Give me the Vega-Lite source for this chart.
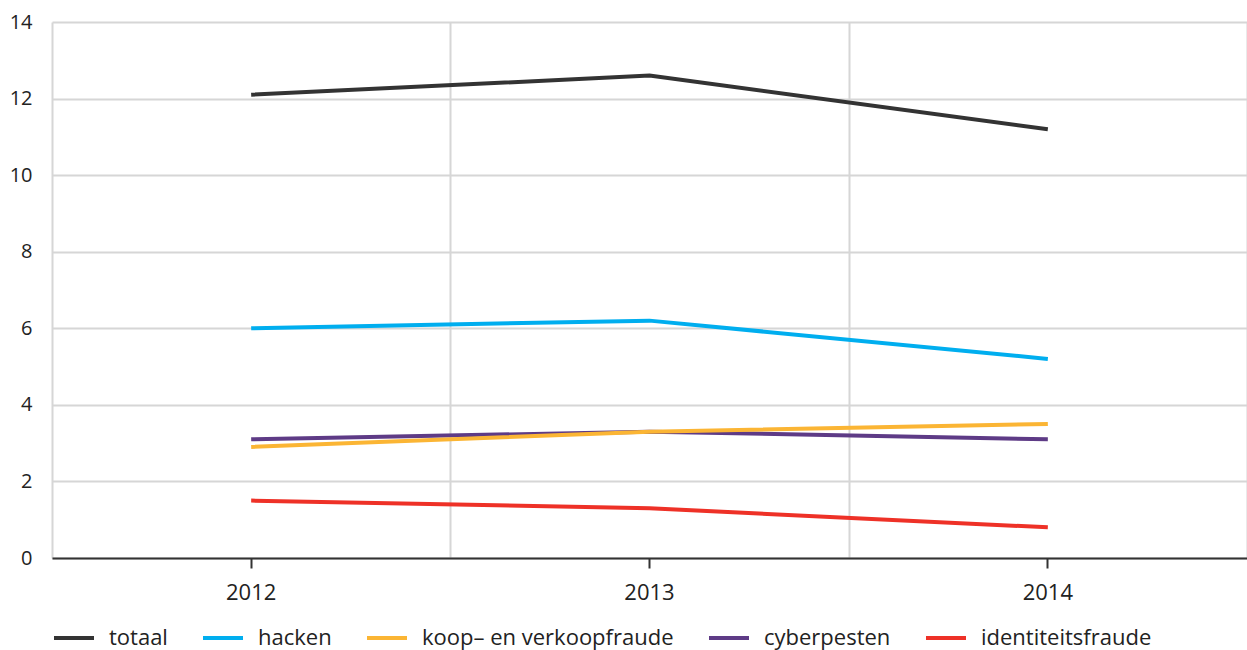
{
  "$schema": "https://vega.github.io/schema/vega-lite/v6.json",
  "autosize": {"type": "none"},
  "width": 1195,
  "height": 536,
  "padding": {"left": 52, "top": 22, "right": 0, "bottom": 92},
  "background": "white",
  "config": {
    "view": {"stroke": null},
    "font": "Open Sans",
    "axis": {"labelFont": "Open Sans", "labelColor": "#222222"},
    "legend": {"labelFont": "Open Sans"}
  },
  "data": {
    "values": [
      {"jaar": "2012", "serie": "totaal", "waarde": 12.1},
      {"jaar": "2013", "serie": "totaal", "waarde": 12.6},
      {"jaar": "2014", "serie": "totaal", "waarde": 11.2},
      {"jaar": "2012", "serie": "hacken", "waarde": 6.0},
      {"jaar": "2013", "serie": "hacken", "waarde": 6.2},
      {"jaar": "2014", "serie": "hacken", "waarde": 5.2},
      {"jaar": "2012", "serie": "cyberpesten", "waarde": 3.1},
      {"jaar": "2013", "serie": "cyberpesten", "waarde": 3.3},
      {"jaar": "2014", "serie": "cyberpesten", "waarde": 3.1},
      {"jaar": "2012", "serie": "koop– en verkoopfraude", "waarde": 2.9},
      {"jaar": "2013", "serie": "koop– en verkoopfraude", "waarde": 3.3},
      {"jaar": "2014", "serie": "koop– en verkoopfraude", "waarde": 3.5},
      {"jaar": "2012", "serie": "identiteitsfraude", "waarde": 1.5},
      {"jaar": "2013", "serie": "identiteitsfraude", "waarde": 1.3},
      {"jaar": "2014", "serie": "identiteitsfraude", "waarde": 0.8}
    ]
  },
  "resolve": {"axis": {"x": "independent"}},
  "layer": [
    {
      "mark": {"type": "line", "strokeOpacity": 0},
      "encoding": {
        "x": {
          "field": "jaar", "type": "ordinal",
          "scale": {"type": "band", "paddingInner": 0, "paddingOuter": 0},
          "axis": {
            "orient": "top", "title": null, "labels": false, "ticks": false, "domain": false,
            "grid": true, "tickBand": "extent", "gridColor": "#d6d6d6", "gridWidth": 2, "zindex": 0
          }
        },
        "y": {"field": "waarde", "type": "quantitative"},
        "detail": {"field": "serie"}
      }
    },
    {
      "mark": {"type": "line", "strokeWidth": 4},
      "encoding": {
        "x": {
          "field": "jaar", "type": "ordinal",
          "scale": {"type": "band", "paddingInner": 0, "paddingOuter": 0},
          "axis": {
            "orient": "bottom", "title": null, "labelAngle": 0, "labelFontSize": 22,
            "labelPadding": 14, "tickSize": 10, "tickWidth": 2, "tickColor": "#333333",
            "domainColor": "#333333", "domainWidth": 2, "grid": false, "zindex": 1
          }
        },
        "y": {
          "field": "waarde", "type": "quantitative",
          "scale": {"domain": [0, 14], "nice": false},
          "axis": {
            "title": null, "values": [0, 2, 4, 6, 8, 10, 12, 14], "domain": false, "ticks": false,
            "labelFontSize": 20, "labelPadding": 20, "gridColor": "#d6d6d6", "gridWidth": 2
          }
        },
        "color": {
          "field": "serie", "type": "nominal",
          "sort": ["totaal", "hacken", "koop– en verkoopfraude", "cyberpesten", "identiteitsfraude"],
          "scale": {
            "domain": ["totaal", "hacken", "koop– en verkoopfraude", "cyberpesten", "identiteitsfraude"],
            "range": ["#333333", "#00aeef", "#fbb534", "#5e3b86", "#ee3127"]
          },
          "legend": {
            "title": null, "orient": "none", "direction": "horizontal",
            "legendX": 0, "legendY": 594,
            "symbolType": "stroke", "symbolSize": 1600, "symbolStrokeWidth": 4,
            "labelFontSize": 22, "labelColor": "#222222", "labelOffset": 13,
            "columnPadding": 27, "labelLimit": 400
          }
        }
      }
    }
  ]
}
